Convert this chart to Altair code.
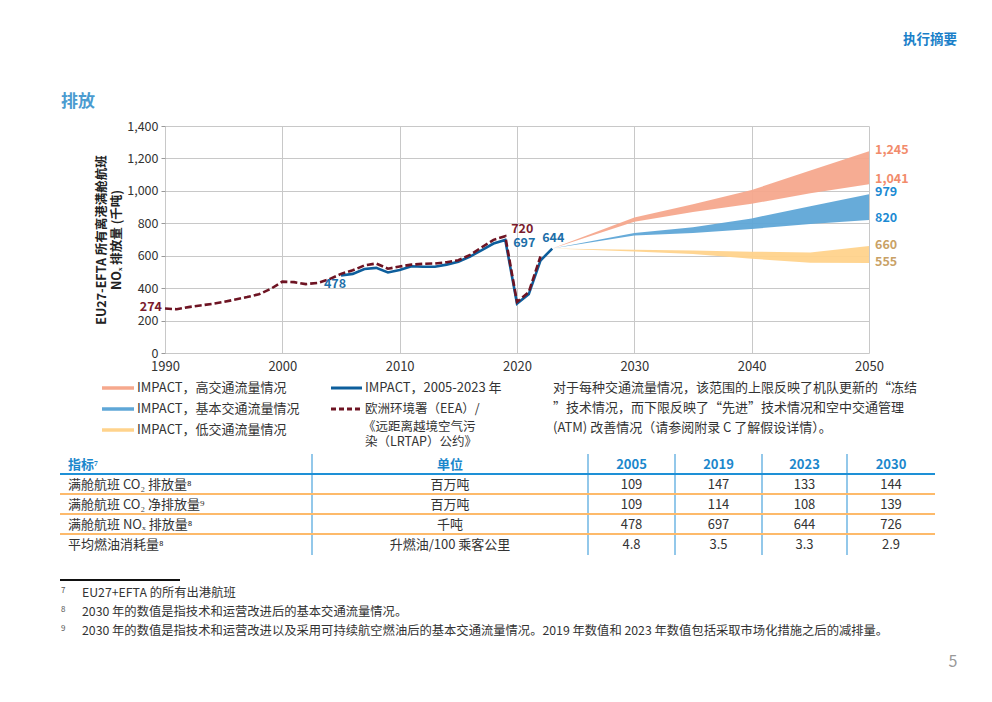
import altair as alt
import pandas as pd

FONT = "Noto Sans CJK SC"

# ---------------- data ----------------
eea_years = list(range(1990, 2023))
eea_values = [274, 270, 283, 293, 303, 315, 330, 345, 362, 395,
              440, 437, 425, 432, 455, 488, 510, 540, 552, 520,
              533, 545, 550, 552, 560, 572, 605, 652, 698, 720,
              315, 375, 595]

impact_years = list(range(2005, 2024))
impact_values = [478, 488, 518, 525, 497, 512, 535, 532, 532, 545,
                 563, 595, 635, 675, 697, 305, 362, 570, 644]

proj_years = [2023, 2030, 2035, 2040, 2045, 2050]
high_lo = [644, 810, 870, 920, 985, 1041]
high_hi = [644, 835, 918, 1005, 1125, 1245]
base_lo = [644, 725, 740, 765, 795, 820]
base_hi = [644, 740, 775, 830, 905, 979]
low_lo = [644, 626, 610, 582, 556, 555]
low_hi = [644, 637, 632, 625, 620, 660]

scenarios = ["高", "基本", "低"]
scenario_colors = ["#F6A88D", "#5FA7D7", "#FFD38C"]
end_label_colors = ["#F28B6B", "#1B8AD3", "#C9A165"]

legend_left = ["IMPACT，高交通流量情况", "IMPACT，基本交通流量情况", "IMPACT，低交通流量情况"]
legend_right_1 = "IMPACT，2005-2023 年"
legend_right_2 = ["欧洲环境署（EEA）/", "《远距离越境空气污", "染（LRTAP）公约》"]
note_lines = ["对于每种交通流量情况，该范围的上限反映了机队更新的“冻结",
              "”技术情况，而下限反映了“先进”技术情况和空中交通管理",
              "(ATM) 改善情况（请参阅附录 C 了解假设详情）。"]

table_header = ["指标⁷", "单位"]
table_years = ["2005", "2019", "2023", "2030"]
indicators = ["满舱航班 CO₂ 排放量⁸", "满舱航班 CO₂ 净排放量⁹", "满舱航班 NOₓ 排放量⁸", "平均燃油消耗量⁸"]
units = ["百万吨", "百万吨", "千吨", "升燃油/100 乘客公里"]
table_values = [["109", "147", "133", "144"],
                ["109", "114", "108", "139"],
                ["478", "697", "644", "726"],
                ["4.8", "3.5", "3.3", "2.9"]]

footnote_nums = ["7", "8", "9"]
footnotes = ["EU27+EFTA 的所有出港航班",
             "2030 年的数值是指技术和运营改进后的基本交通流量情况。",
             "2030 年的数值是指技术和运营改进以及采用可持续航空燃油后的基本交通流量情况。2019 年数值和 2023 年数值包括采取市场化措施之后的减排量。"]

# ---------------- layout helpers ----------------
OX, OY = 165, 126  # page position of plot origin


def txt(s, x, y, size=13, color="#333333", weight="normal", align="left"):
    return alt.Chart(pd.DataFrame({"t": [s]})).mark_text(
        align=align, baseline="middle", fontSize=size, color=color,
        fontWeight=weight, font=FONT
    ).encode(x=alt.value(x - OX), y=alt.value(y - OY), text="t:N")


def hline(x1, x2, y, color, width, dash=None):
    kw = dict(color=color, strokeWidth=width)
    if dash:
        kw["strokeDash"] = dash
    return alt.Chart(pd.DataFrame({"a": [0]})).mark_rule(**kw).encode(
        x=alt.value(x1 - OX), x2=alt.value(x2 - OX), y=alt.value(y - OY))


def vline(x, y1, y2, color, width):
    return alt.Chart(pd.DataFrame({"a": [0]})).mark_rule(color=color, strokeWidth=width).encode(
        x=alt.value(x - OX), y=alt.value(y1 - OY), y2=alt.value(y2 - OY))


# ---------------- chart ----------------
rows = []
for name, lo, hi in zip(scenarios, [high_lo, base_lo, low_lo], [high_hi, base_hi, low_hi]):
    for yr, a, b in zip(proj_years, lo, hi):
        rows.append({"year": yr, "v": a, "v2": b, "scenario": name})
bands_df = pd.DataFrame(rows)

X_AXIS = alt.Axis(values=list(range(1990, 2051, 10)), format="d", title=None,
                  ticks=False, domain=False, labelPadding=7, labelFontSize=13,
                  labelFlush=False, labelOverlap=False)
Y_AXIS = alt.Axis(values=list(range(0, 1401, 200)), format=",d", domain=False,
                  ticks=True, tickSize=4, tickColor="#999999", labelPadding=3,
                  labelFlush=False, labelOverlap=False,
                  title=["EU27-EFTA 所有离港满舱航班", "NOₓ 排放量 (千吨)"],
                  titleFontWeight="bold", titleFontSize=12.5, titlePadding=3,
                  titleColor="#222222", titleLineHeight=15)
X_SCALE = alt.Scale(domain=[1990, 2050], nice=False, zero=False)
Y_SCALE = alt.Scale(domain=[0, 1400], nice=False)


def X():
    return alt.X("year:Q", scale=X_SCALE, axis=X_AXIS)


def Y():
    return alt.Y("v:Q", scale=Y_SCALE, axis=Y_AXIS)


bands = alt.Chart(bands_df).mark_area(opacity=0.95).encode(
    x=X(), y=Y(), y2="v2:Q",
    color=alt.Color("scenario:N", scale=alt.Scale(domain=scenarios, range=scenario_colors), legend=None))

impact_line = alt.Chart(pd.DataFrame({"year": impact_years, "v": impact_values})).mark_line(
    color="#0D5E9C", strokeWidth=2.6).encode(x=X(), y=Y())
eea_line = alt.Chart(pd.DataFrame({"year": eea_years, "v": eea_values})).mark_line(
    color="#6E1423", strokeWidth=2.6, strokeDash=[7, 3]).encode(x=X(), y=Y())


def point_label(s, yr, v, color, dx, dy, align="center"):
    return alt.Chart(pd.DataFrame({"year": [yr], "v": [v], "t": [s]})).mark_text(
        align=align, baseline="middle", fontSize=12.5, fontWeight="bold", color=color,
        font=FONT, dx=dx, dy=dy).encode(x=X(), y=Y(), text="t:N")


RED, BLUE = "#7A1B2D", "#1D6FA9"
labels = [
    point_label("274", 1990, eea_values[0], RED, -3, -2, "right"),
    point_label("478", 2005, impact_values[0], BLUE, -6, 9),
    point_label("720", 2019, eea_values[29], RED, 17, -7),
    point_label("697", 2019, impact_values[14], BLUE, 19, 3),
    point_label("644", 2023, impact_values[-1], BLUE, 1, -11),
]
end_vals = [high_hi[-1], high_lo[-1], base_hi[-1], base_lo[-1], low_hi[-1], low_lo[-1]]
end_cols = [end_label_colors[0], end_label_colors[0], end_label_colors[1],
            end_label_colors[1], end_label_colors[2], end_label_colors[2]]
end_dy = [-1, -5, -2, -2, -1, -1.5]
for v, c, d in zip(end_vals, end_cols, end_dy):
    labels.append(alt.Chart(pd.DataFrame({"year": [2050], "v": [v]})).mark_text(
        align="left", baseline="middle", fontSize=12.5, fontWeight="bold", color=c,
        font=FONT, dx=6, dy=d).encode(x=X(), y=Y(), text=alt.Text("v:Q", format=",d")))

# ---------------- page annotations ----------------
ann = []
ann.append(txt("执行摘要", 957, 40, size=13.5, color="#1A7FC9", weight="bold", align="right"))
ann.append(txt("排放", 61, 102, size=17, color="#4A9BD0", weight="bold"))
ann.append(txt("5", 953, 662, size=16, color="#999999", align="center"))

# legend
for s, c, y in zip(legend_left, scenario_colors, [388, 409, 430]):
    ann.append(hline(102, 134, y, c, 3.5))
    ann.append(txt(s, 137, y, size=13))
ann.append(hline(331, 362, 388, "#0D5E9C", 3))
ann.append(txt(legend_right_1, 365, 388, size=13))
ann.append(hline(331, 362, 409, "#6E1423", 3, [5, 3]))
for s, y, x in zip(legend_right_2, [409, 427, 442], [365, 363, 365]):
    ann.append(txt(s, x, y, size=12.5))
for s, y in zip(note_lines, [388, 408, 428]):
    ann.append(txt(s, 553, y, size=13))

# table
col_lines = [312, 588, 675, 762, 847]
col_centers = [631.5, 718.5, 804.5, 891]
row_y = [485, 505, 525, 545]
HEAD = "#1B87CC"
for x in col_lines:
    ann.append(vline(x, 454, 555, "#4BA3DC", 1.2))
ann.append(hline(60, 935, 474, "#1E90D6", 2))
for y in [494, 514, 534]:
    ann.append(hline(60, 935, y, "#FDBA6B", 2))
ann.append(txt(table_header[0], 68, 465, size=13, color=HEAD, weight="bold"))
ann.append(txt(table_header[1], 450, 465, size=13, color=HEAD, weight="bold", align="center"))
for s, x in zip(table_years, col_centers):
    ann.append(txt(s, x, 465, size=13, color=HEAD, weight="bold", align="center"))
for i, y in enumerate(row_y):
    ann.append(txt(indicators[i], 68, y, size=13))
    ann.append(txt(units[i], 450, y, size=13, align="center"))
    for s, x in zip(table_values[i], col_centers):
        ann.append(txt(s, x, y, size=13, align="center"))

# footnotes
ann.append(hline(60, 180, 580, "#111111", 2))
for n, s, y in zip(footnote_nums, footnotes, [593, 612, 631]):
    ann.append(txt(n, 61, y - 2, size=8, color="#555555"))
    ann.append(txt(s, 82, y, size=12.3))

chart = alt.layer(bands, impact_line, eea_line, *labels, *ann).properties(
    width=704, height=227,
    autosize=alt.AutoSizeParams(type="none"),
    padding={"left": 157, "top": 118, "right": 110, "bottom": 330},
).configure_view(stroke=None).configure_axis(
    labelFont=FONT, titleFont=FONT, labelColor="#333333", labelFontSize=12.5,
    gridColor="#C8C8C8", gridWidth=1
)

chart.save("out.html", embed_options={"renderer": "svg", "actions": False})
